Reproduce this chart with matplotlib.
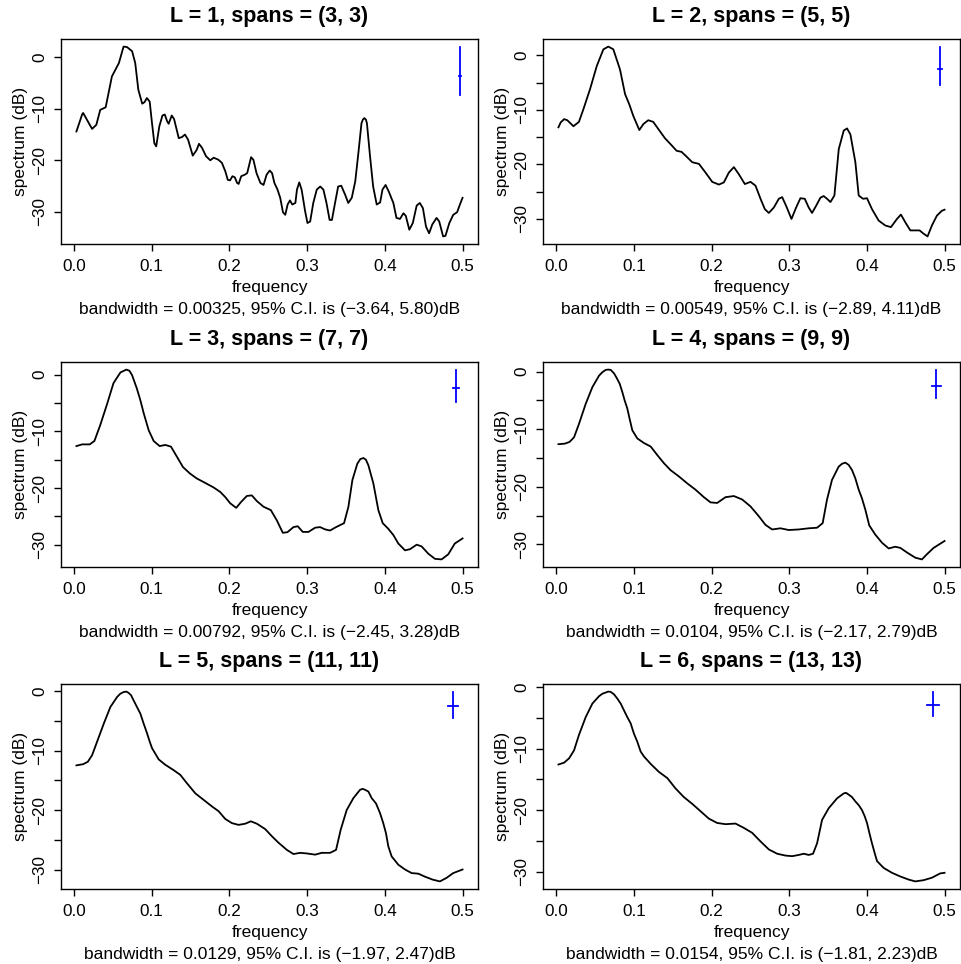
import matplotlib
matplotlib.use("Agg")
import matplotlib.pyplot as plt
from matplotlib.ticker import MultipleLocator

plt.rcParams['font.family'] = ['Liberation Sans', 'DejaVu Sans']

# =====================================================
# Smoothed periodogram settings (one entry per panel)
# =====================================================

spans = [3, 5, 7, 9, 11, 13]
bandwidth = [0.00325, 0.00549, 0.00792, 0.0104, 0.0129, 0.0154]
bw_text = ["0.00325", "0.00549", "0.00792", "0.0104", "0.0129", "0.0154"]
ci_low = [-3.64, -2.89, -2.45, -2.17, -1.97, -1.81]
ci_high = [5.80, 4.11, 3.28, 2.79, 2.47, 2.23]

# =====================================================
# Spectrum values (dB)
# =====================================================

freq1 = [0.0034, 0.0107, 0.012, 0.0235, 0.029, 0.034, 0.041, 0.049, 0.058, 0.064,
         0.0685, 0.075, 0.079, 0.083, 0.088, 0.091, 0.094, 0.0976, 0.1006, 0.1036,
         0.106, 0.110, 0.114, 0.117, 0.120, 0.122, 0.126, 0.129, 0.135, 0.139,
         0.143, 0.147, 0.153, 0.158, 0.161, 0.165, 0.170, 0.1755, 0.180, 0.186,
         0.1905, 0.195, 0.198, 0.201, 0.204, 0.207, 0.210, 0.212, 0.2153, 0.220,
         0.223, 0.228, 0.231, 0.235, 0.240, 0.244, 0.248, 0.252, 0.255, 0.258,
         0.262, 0.2655, 0.269, 0.272, 0.275, 0.278, 0.281, 0.285, 0.287, 0.290,
         0.293, 0.2975, 0.3005, 0.304, 0.308, 0.3125, 0.317, 0.321, 0.325, 0.329,
         0.332, 0.336, 0.340, 0.344, 0.349, 0.353, 0.3575, 0.362, 0.366, 0.370,
         0.3718, 0.3737, 0.3757, 0.377, 0.381, 0.385, 0.3896, 0.394, 0.397, 0.401,
         0.405, 0.411, 0.415, 0.4195, 0.424, 0.427, 0.4315, 0.436, 0.441, 0.445,
         0.449, 0.453, 0.457, 0.461, 0.4666, 0.470, 0.475, 0.478, 0.483, 0.488,
         0.493, 0.4966, 0.500]
spec1 = [-14.4, -11.1, -10.8, -13.9, -13.1, -10.2, -9.7, -3.7, -1.1, 2.1,
         2.0, 1.2, -1.1, -6.3, -9.0, -8.7, -7.9, -8.6, -12.8, -16.7,
         -17.3, -13.4, -11.3, -11.1, -12.4, -12.9, -11.3, -12.0, -15.7, -15.5,
         -15.0, -16.0, -19.1, -18.0, -16.8, -17.6, -19.2, -20.0, -19.5, -19.9,
         -20.5, -22.2, -23.8, -23.9, -23.1, -23.3, -24.4, -24.6, -23.1, -22.8,
         -22.5, -19.4, -19.9, -22.5, -24.4, -24.8, -22.8, -22.0, -22.5, -24.4,
         -25.7, -27.3, -30.1, -30.6, -28.6, -27.8, -28.6, -28.3, -25.7, -24.3,
         -25.7, -29.9, -32.2, -31.9, -28.3, -25.7, -25.1, -25.7, -28.3, -31.6,
         -31.6, -28.3, -25.1, -24.95, -26.7, -28.3, -27.3, -24.1, -18.6, -12.8,
         -12.1, -11.8, -12.1, -12.8, -19.2, -25.1, -28.6, -28.2, -25.7, -24.8,
         -26.05, -28.3, -31.2, -31.4, -30.3, -30.8, -33.5, -32.2, -28.8, -28.3,
         -29.3, -32.9, -34.2, -32.5, -31.2, -31.9, -34.8, -34.7, -32.2, -30.6,
         -30.1, -28.6, -27.3]

freq2 = [0.0026, 0.0055, 0.0099, 0.014, 0.0219, 0.029, 0.0347, 0.0433, 0.052, 0.0605,
         0.0669, 0.0733, 0.0819, 0.0884, 0.0939, 0.099, 0.1068, 0.112, 0.1183, 0.1247,
         0.1312, 0.1398, 0.1484, 0.1548, 0.1612, 0.1664, 0.1750, 0.1836, 0.1921, 0.2007,
         0.2093, 0.2157, 0.2221, 0.2286, 0.235, 0.2427, 0.250, 0.2565, 0.2629, 0.2685,
         0.2736, 0.2801, 0.2865, 0.2908, 0.2959, 0.3028, 0.3088, 0.3143, 0.3199, 0.325,
         0.3293, 0.3345, 0.3401, 0.3443, 0.3486, 0.353, 0.3581, 0.3637, 0.3701, 0.3744,
         0.3787, 0.3851, 0.3894, 0.3949, 0.4001, 0.4065, 0.4151, 0.4237, 0.4309, 0.4387,
         0.4438, 0.4494, 0.4559, 0.4623, 0.4678, 0.473, 0.4781, 0.4837, 0.4901, 0.4965,
         0.500]
spec2 = [-13.2, -12.3, -11.7, -11.9, -13.0, -12.2, -9.9, -6.2, -1.95, 1.1,
         1.6, 1.1, -2.6, -7.1, -9.0, -11.1, -13.7, -12.6, -11.9, -12.2,
         -13.5, -15.2, -16.5, -17.5, -17.7, -18.4, -19.6, -19.9, -21.5, -23.2,
         -23.7, -23.3, -21.5, -20.5, -21.8, -23.6, -23.2, -23.9, -26.3, -28.2,
         -28.9, -27.9, -26.3, -26.0, -27.6, -30.0, -27.9, -26.2, -26.3, -27.9,
         -28.9, -27.6, -26.1, -25.8, -26.3, -26.9, -25.7, -17.2, -13.8, -13.4,
         -14.5, -19.6, -25.7, -26.3, -26.2, -28.2, -30.3, -31.2, -31.5, -30.0,
         -29.2, -30.6, -32.1, -32.1, -32.1, -32.7, -33.2, -31.2, -29.4, -28.5,
         -28.3]

freq3 = [0.0034, 0.0107, 0.0205, 0.0265, 0.034, 0.043, 0.051, 0.0557, 0.060, 0.0676,
         0.0715, 0.0749, 0.081, 0.0856, 0.0899, 0.0963, 0.1027, 0.1104, 0.1177, 0.125,
         0.1327, 0.1404, 0.149, 0.158, 0.169, 0.1798, 0.1884, 0.1948, 0.2012, 0.2089,
         0.2149, 0.2226, 0.229, 0.2354, 0.244, 0.2534, 0.2611, 0.2688, 0.2748, 0.2825,
         0.288, 0.2945, 0.3018, 0.3104, 0.3168, 0.3232, 0.3296, 0.3373, 0.3476, 0.3532,
         0.3583, 0.3647, 0.3685, 0.3724, 0.3757, 0.3789, 0.3853, 0.3917, 0.3973, 0.4045,
         0.411, 0.4174, 0.426, 0.4324, 0.441, 0.4473, 0.456, 0.4645, 0.473, 0.4816,
         0.490, 0.500]
spec3 = [-12.6, -12.3, -12.3, -11.7, -8.9, -5.1, -1.5, -0.5, 0.4, 0.9,
         0.7, -0.06, -2.4, -4.5, -6.8, -9.8, -11.7, -12.6, -12.4, -12.7,
         -14.5, -16.3, -17.4, -18.3, -19.1, -19.9, -20.7, -21.6, -22.7, -23.5,
         -22.5, -21.4, -21.3, -22.3, -23.3, -23.9, -25.7, -27.9, -27.8, -26.9,
         -26.75, -27.75, -27.75, -27.0, -26.9, -27.3, -27.5, -26.9, -26.2, -23.3,
         -18.6, -15.7, -14.9, -14.7, -15.0, -16.0, -19.2, -23.9, -26.2, -27.2,
         -28.3, -29.8, -31.0, -30.8, -30.0, -30.3, -31.6, -32.5, -32.6, -31.7,
         -29.8, -28.9]

freq4 = [0.0026, 0.011, 0.017, 0.0227, 0.029, 0.0377, 0.0463, 0.0549, 0.0592, 0.0635,
         0.0669, 0.0699, 0.0742, 0.0772, 0.0815, 0.085, 0.0879, 0.0913, 0.0943, 0.0978,
         0.1042, 0.1128, 0.1214, 0.130, 0.1385, 0.147, 0.1578, 0.1685, 0.1792, 0.190,
         0.1985, 0.2071, 0.2178, 0.2286, 0.2393, 0.250, 0.2607, 0.2693, 0.2779, 0.2886,
         0.2993, 0.3122, 0.325, 0.3358, 0.343, 0.3486, 0.355, 0.3636, 0.3679, 0.3722,
         0.3765, 0.3808, 0.385, 0.3894, 0.3936, 0.398, 0.403, 0.4108, 0.4194, 0.428,
         0.4365, 0.443, 0.4516, 0.4623, 0.4708, 0.4773, 0.4859, 0.500]
spec4 = [-12.6, -12.5, -12.2, -11.4, -9.1, -5.6, -2.7, -0.7, -0.1, 0.3,
         0.35, 0.3, -0.3, -1.0, -2.1, -3.6, -5.0, -6.4, -8.2, -10.2,
         -11.6, -12.4, -13.0, -14.5, -15.9, -17.1, -18.2, -19.4, -20.5, -21.8,
         -22.7, -22.8, -21.8, -21.6, -22.2, -23.4, -25.1, -26.6, -27.4, -27.2,
         -27.5, -27.4, -27.2, -27.1, -26.3, -22.2, -18.8, -16.5, -16.0, -15.8,
         -16.2, -17.1, -18.5, -20.5, -22.0, -24.0, -26.7, -28.3, -29.7, -30.7,
         -30.4, -30.6, -31.4, -32.3, -32.6, -31.7, -30.6, -29.4]

freq5 = [0.0034, 0.012, 0.018, 0.0235, 0.030, 0.0385, 0.047, 0.0557, 0.0599, 0.0642,
         0.0676, 0.0706, 0.0736, 0.077, 0.0813, 0.0856, 0.0899, 0.0942, 0.0976, 0.1006,
         0.1092, 0.1177, 0.1284, 0.137, 0.1455, 0.1563, 0.167, 0.1777, 0.1862, 0.1948,
         0.2033, 0.2119, 0.2205, 0.2277, 0.2354, 0.2461, 0.2547, 0.2633, 0.274, 0.2825,
         0.2911, 0.2997, 0.3104, 0.3189, 0.3296, 0.3373, 0.3433, 0.351, 0.3596, 0.3639,
         0.3682, 0.3716, 0.3746, 0.3789, 0.3831, 0.3887, 0.3938, 0.398, 0.4015, 0.4045,
         0.4088, 0.4174, 0.426, 0.4345, 0.4431, 0.4516, 0.4615, 0.4709, 0.4795, 0.488,
         0.500]
spec5 = [-12.5, -12.3, -11.9, -10.8, -8.5, -5.5, -2.7, -1.0, -0.45, -0.17,
         -0.1, -0.33, -0.7, -1.6, -2.7, -3.8, -5.5, -7.1, -8.5, -9.6,
         -11.5, -12.4, -13.3, -14.1, -15.5, -17.2, -18.3, -19.4, -20.2, -21.5,
         -22.2, -22.5, -22.3, -21.9, -22.3, -23.2, -24.4, -25.5, -26.7, -27.4,
         -27.2, -27.3, -27.5, -27.2, -27.2, -26.7, -23.3, -20.0, -18.0, -17.3,
         -16.6, -16.45, -16.6, -16.9, -18.0, -18.9, -20.5, -22.2, -23.9, -26.1,
         -27.8, -29.2, -30.0, -30.6, -30.7, -31.2, -31.7, -32.0, -31.4, -30.6,
         -30.0]

freq6 = [0.0026, 0.0099, 0.0163, 0.0227, 0.029, 0.0377, 0.0463, 0.0549, 0.0592, 0.0635,
         0.0669, 0.0699, 0.0742, 0.0785, 0.0828, 0.087, 0.0913, 0.0956, 0.0999, 0.1042,
         0.1085, 0.1128, 0.1214, 0.132, 0.1428, 0.1535, 0.1642, 0.175, 0.1857, 0.1964,
         0.2071, 0.2178, 0.2307, 0.2414, 0.2521, 0.2629, 0.2736, 0.2843, 0.295, 0.3036,
         0.3122, 0.3186, 0.325, 0.3306, 0.3358, 0.3422, 0.3508, 0.3615, 0.3701, 0.3731,
         0.3765, 0.3808, 0.3851, 0.3894, 0.3936, 0.3971, 0.4001, 0.4031, 0.4065, 0.410,
         0.413, 0.4215, 0.4322, 0.443, 0.4537, 0.4623, 0.473, 0.4837, 0.4944, 0.500]
spec6 = [-12.6, -12.3, -11.6, -10.3, -7.8, -4.9, -2.7, -1.5, -1.1, -0.9,
         -0.75, -0.8, -1.2, -1.9, -2.7, -3.8, -4.9, -5.9, -7.6, -8.9,
         -10.5, -11.3, -12.5, -13.8, -14.8, -16.5, -17.9, -19.0, -20.2, -21.4,
         -22.1, -22.3, -22.2, -22.9, -23.7, -25.1, -26.4, -27.1, -27.4, -27.5,
         -27.3, -27.1, -27.3, -27.1, -25.4, -21.6, -19.7, -18.1, -17.3, -17.2,
         -17.5, -17.9, -18.6, -19.2, -20.0, -21.0, -22.1, -23.7, -25.4, -27.0,
         -28.3, -29.4, -30.2, -30.8, -31.3, -31.6, -31.4, -31.0, -30.3, -30.2]

freqs = [freq1, freq2, freq3, freq4, freq5, freq6]
specs = [spec1, spec2, spec3, spec4, spec5, spec6]
ytick_step = [10, 5, 5, 5, 5, 5]

# =====================================================
# Layout (pixels of a 961 x 964 picture)
# =====================================================

W, H = 961, 964
col_left = [61, 543]
row_top = [39, 362, 684]
ax_w, ax_h = 417, 205

fig = plt.figure(figsize=(W / 100, H / 100), dpi=100)

for i in range(6):
    r, c = i // 2, i % 2
    ax = fig.add_axes([col_left[c] / W, (H - row_top[r] - ax_h) / H, ax_w / W, ax_h / H])

    f = freqs[i]
    s = specs[i]
    ax.plot(f, s, color="black", lw=1.3, solid_joinstyle="round")

    # confidence bar, top of bar sits at the spectrum maximum
    bw = bandwidth[i]
    cx = max(f) - bw
    cy = max(s) - ci_high[i]
    ax.plot([cx, cx], [cy + ci_low[i], cy + ci_high[i]], color="blue", lw=1.3)
    ax.plot([cx - bw / 2, cx + bw / 2], [cy, cy], color="blue", lw=1.3)

    # R style 4% axis extension
    xr = max(f) - min(f)
    yr = max(s) - min(s)
    ax.set_xlim(min(f) - 0.04 * xr, max(f) + 0.04 * xr)
    ax.set_ylim(min(s) - 0.04 * yr, max(s) + 0.04 * yr)

    ax.set_xticks([0.0, 0.1, 0.2, 0.3, 0.4, 0.5])
    ax.set_xticklabels(["0.0", "0.1", "0.2", "0.3", "0.4", "0.5"])
    ax.yaxis.set_major_locator(MultipleLocator(10))
    if ytick_step[i] == 5:
        ax.yaxis.set_minor_locator(MultipleLocator(5))

    ax.tick_params(which="both", direction="out", length=5, width=1, color="black")
    ax.tick_params(axis="x", labelsize=12.3, pad=6)
    ax.tick_params(axis="y", labelsize=12.3, pad=5)
    for lbl in ax.get_yticklabels():
        lbl.set_rotation(90)
        lbl.set_va("center")
    for sp in ax.spines.values():
        sp.set_linewidth(1)

    ax.set_title(f"L = {i + 1}, spans = ({spans[i]}, {spans[i]})",
                 fontsize=15.5, fontweight="bold", pad=12)

    ax.annotate("frequency", xy=(0.5, 0), xycoords="axes fraction",
                xytext=(0, -34.5), textcoords="offset points",
                ha="center", va="baseline", fontsize=12.5)
    caption = (f"bandwidth = {bw_text[i]}, 95% C.I. is "
               f"(\u2212{abs(ci_low[i]):.2f}, {ci_high[i]:.2f})dB")
    ax.annotate(caption, xy=(0.5, 0), xycoords="axes fraction",
                xytext=(0, -50.4), textcoords="offset points",
                ha="center", va="baseline", fontsize=12.5)
    ax.annotate("spectrum (dB)", xy=(0, 0.5), xycoords="axes fraction",
                xytext=(-29.5, 0), textcoords="offset points",
                ha="center", va="center", rotation=90, fontsize=12.5)

fig.savefig("out.png", dpi=100)
